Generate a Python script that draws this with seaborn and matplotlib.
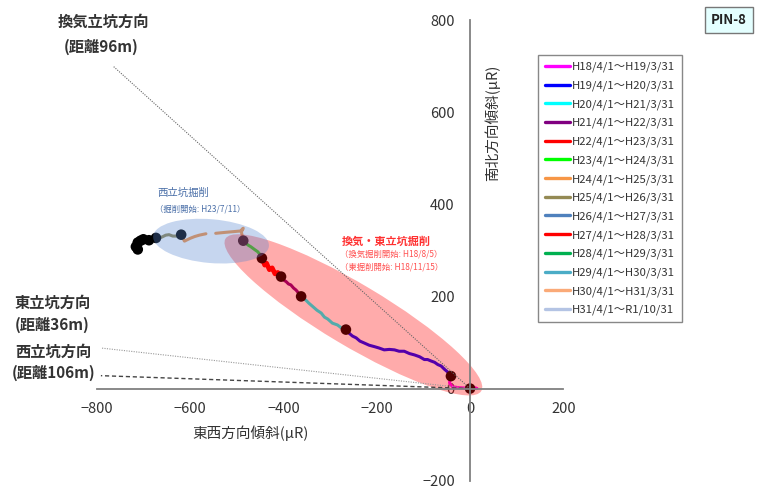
import numpy as np
import pandas as pd
import matplotlib
matplotlib.use("Agg")
import matplotlib.pyplot as plt
import seaborn as sns
from matplotlib.patches import Ellipse
from matplotlib.lines import Line2D

# ---------------- data ----------------
periods = ["H18/4/1～H19/3/31", "H19/4/1～H20/3/31", "H20/4/1～H21/3/31",
           "H21/4/1～H22/3/31", "H22/4/1～H23/3/31", "H23/4/1～H24/3/31",
           "H24/4/1～H25/3/31", "H25/4/1～H26/3/31", "H26/4/1～H27/3/31",
           "H27/4/1～H28/3/31", "H28/4/1～H29/3/31", "H29/4/1～H30/3/31",
           "H30/4/1～H31/3/31", "H31/4/1～R1/10/31"]
colors = ["#FF00FF", "#0000FF", "#00FFFF", "#800080", "#FF0000", "#00FF00",
          "#F79646", "#948A54", "#4F81BD", "#FF0000", "#00B050", "#4BACC6",
          "#FAAA78", "#B4C4E4"]

x_h18 = [0, 12, 15, 5, -10, -25, -38, -44, -43, -41]
y_h18 = [0, 1, 0, 2, 1, 2, 4, 12, 20, 27]
x_h19 = [-41, -48, -55, -62, -69, -76, -84, -91, -98, -108, -119, -130, -141, -152, -162, -173, -184, -195, -205, -216, -227, -236, -244, -252, -259, -266]
y_h19 = [27, 36, 42, 49, 52, 57, 60, 63, 63, 69, 73, 76, 81, 81, 84, 85, 84, 88, 91, 94, 99, 103, 110, 114, 120, 128]
x_h20 = [-266, -275, -284, -295, -305, -312, -319, -328, -337, -345, -352, -362]
y_h20 = [128, 131, 138, 142, 151, 155, 164, 170, 178, 185, 192, 200]
x_h21 = [-362, -368, -373, -378, -384, -389, -394, -400, -405]
y_h21 = [200, 208, 214, 218, 225, 227, 232, 236, 243]
x_h22 = [-405, -412, -418, -424, -430, -436, -440, -446]
y_h22 = [243, 252, 249, 262, 258, 272, 268, 283]
x_h23 = [-446, -450, -455, -462, -470, -475, -480, -486]
y_h23 = [283, 291, 297, 302, 308, 311, 315, 321]
x_h24a = [-486, -490, -486, -492, -503, -525, -545]
y_h24a = [321, 340, 348, 342, 341, 339, 337]
x_h24b = [-566, -580, -590, -600, -612, -619]
y_h24b = [336, 333, 330, 326, 320, 334]
x_h25 = [-619, -628, -637, -645, -652, -660, -666, -673]
y_h25 = [334, 331, 331, 334, 333, 329, 327, 327]
x_h26 = [-673, -679, -684, -688]
y_h26 = [327, 324, 322, 322]
x_h27 = [-688, -695, -700]
y_h27 = [322, 325, 324]
x_h28 = [-700, -705, -706]
y_h28 = [324, 322, 321]
x_h29 = [-706, -712, -712]
y_h29 = [321, 318, 317]
x_h30 = [-712, -716, -716]
y_h30 = [317, 310, 308]
x_h31 = [-716, -714, -712]
y_h31 = [308, 305, 302]

# year-end markers
mk_x = [0, -41, -266, -362, -405, -446, -486, -619, -673, -688, -700, -706, -712, -716, -712]
mk_y = [0, 27, 128, 200, 243, 283, 321, 334, 327, 322, 324, 321, 317, 308, 302]

# direction lines (end points, starting at origin)
dir_vent = (-765, 700)   # 換気立坑方向
dir_east = (-791, 88)    # 東立坑方向
dir_west = (-791, 28)    # 西立坑方向

xticks = [-800, -600, -400, -200, 0, 200]
yticks = [-200, 0, 200, 400, 600, 800]

segments = [
    (0, 0, x_h18, y_h18), (1, 0, x_h19, y_h19), (2, 0, x_h20, y_h20),
    (3, 0, x_h21, y_h21), (4, 0, x_h22, y_h22), (5, 0, x_h23, y_h23),
    (6, 0, x_h24a, y_h24a), (6, 1, x_h24b, y_h24b), (7, 0, x_h25, y_h25),
    (8, 0, x_h26, y_h26), (9, 0, x_h27, y_h27), (10, 0, x_h28, y_h28),
    (11, 0, x_h29, y_h29), (12, 0, x_h30, y_h30), (13, 0, x_h31, y_h31),
]
rows = []
for p, s, xs, ys in segments:
    for i, (xv, yv) in enumerate(zip(xs, ys)):
        rows.append({"period": periods[p], "pi": p, "seg": s, "idx": i, "x": xv, "y": yv})
df = pd.DataFrame(rows)
mk = pd.DataFrame({"x": mk_x, "y": mk_y})

# ---------------- style ----------------
sns.set_theme(style="white")
plt.rcParams["font.family"] = ["Noto Sans CJK JP", "DejaVu Sans"]
plt.rcParams["axes.unicode_minus"] = True

W, H = 760, 491
fig = plt.figure(figsize=(W / 100, H / 100), dpi=100)
ax = fig.add_axes([96.7 / W, 1 - 480.7 / H, 466.7 / W, 460.7 / H])

def px(x, y):
    return x / W, 1 - y / H

# trajectory lines
for p in range(len(periods)):
    sub = df[df["pi"] == p]
    lw = 3.4 if p == 4 else 2.2
    sns.lineplot(data=sub, x="x", y="y", units="seg", estimator=None, sort=False,
                 color=colors[p], lw=lw, legend=False, ax=ax, zorder=2)

# markers
sns.scatterplot(data=mk, x="x", y="y", color="black", s=58, edgecolor="none",
                ax=ax, zorder=2.5, legend=False)

# ellipses (drawn on top, translucent)
ax.add_patch(Ellipse((-250, 160), width=640, height=134, angle=-31.1,
                     facecolor=(1, 0, 0, 0.33), edgecolor="none", zorder=3))
ax.add_patch(Ellipse((-555, 320), width=249, height=95, angle=-5,
                     facecolor=(0.35, 0.53, 0.82, 0.34), edgecolor="none", zorder=3.1))

# direction lines
ax.plot([0, dir_vent[0]], [0, dir_vent[1]], color="#666666", lw=0.8,
        ls=(0, (1, 1.2)), zorder=4)
ax.plot([0, dir_east[0]], [0, dir_east[1]], color="#999999", lw=0.8,
        ls=(0, (1, 1.2)), zorder=4)
ax.plot([0, dir_west[0]], [0, dir_west[1]], color="#444444", lw=1.0,
        ls=(0, (3, 2)), zorder=4)

# axes
ax.set_xlim(-800, 200)
ax.set_ylim(-200, 800)
ax.set_xticks(xticks)
ax.set_yticks(yticks)
ax.spines["left"].set_position(("data", 0))
ax.spines["bottom"].set_position(("data", 0))
ax.spines["top"].set_visible(False)
ax.spines["right"].set_visible(False)
for sp in ("left", "bottom"):
    ax.spines[sp].set_color("#808080")
    ax.spines[sp].set_linewidth(1.3)
    ax.spines[sp].set_zorder(4.5)
ax.tick_params(axis="both", direction="inout", length=8, width=1.1,
               color="#808080", labelsize=10.5, labelcolor="#333333")
ax.tick_params(axis="x", pad=6)
ax.tick_params(axis="y", pad=7)
ax.set_xlabel("")
ax.set_ylabel("")
ax.patch.set_alpha(0)

txtc = "#333333"
fig.text(*px(251, 433), "東西方向傾斜(μR)", ha="center", va="center",
         fontsize=10.5, color=txtc)
fig.text(*px(492, 123), "南北方向傾斜(μR)", ha="center", va="center",
         fontsize=10.5, color=txtc, rotation=90)

# direction labels
for (xx, yy, s) in [(103, 22, "換気立坑方向"), (101, 47, "(距離96m)"),
                    (53, 303, "東立坑方向"), (52, 325, "(距離36m)"),
                    (53, 352, "西立坑方向"), (54, 373, "(距離106m)")]:
    fig.text(*px(xx, yy), s, ha="center", va="center", fontsize=11,
             color="#333333", fontweight="bold")

# excavation labels
fig.text(*px(157, 193), "西立坑掘削", ha="left", va="center", fontsize=7.5,
         color="#4A6FA8")
fig.text(*px(155, 209), "（掘削開始: H23/7/11）", ha="left", va="center",
         fontsize=6, color="#4A6FA8")
fig.text(*px(342, 241), "換気・東立坑掘削", ha="left", va="center", fontsize=8,
         color="#FF3030", fontweight="bold")
fig.text(*px(340, 254), "（換気掘削開始: H18/8/5）", ha="left", va="center",
         fontsize=6, color="#FF5050")
fig.text(*px(340, 267), "（東掘削開始: H18/11/15）", ha="left", va="center",
         fontsize=6, color="#FF5050")

# PIN-8 box
fig.text(*px(729, 20), "PIN-8", ha="center", va="center", fontsize=9.5,
         fontweight="bold", color="#222222",
         bbox=dict(boxstyle="square,pad=0.45", facecolor="#E4FFFF",
                   edgecolor="#777777", lw=1))

# legend
handles = [Line2D([0], [0], color=c, lw=2.4) for c in colors]
leg = fig.legend(handles, periods, loc="upper left",
                 bbox_to_anchor=px(538, 55), bbox_transform=fig.transFigure,
                 fontsize=8.2, frameon=True, fancybox=False, framealpha=1,
                 edgecolor="#888888", handlelength=2.2, handletextpad=0.2,
                 labelspacing=0.72, borderpad=0.6, borderaxespad=0)
leg.get_frame().set_linewidth(1.0)
for t in leg.get_texts():
    t.set_color("#333333")

fig.savefig("out.png", dpi=100, facecolor="white")
